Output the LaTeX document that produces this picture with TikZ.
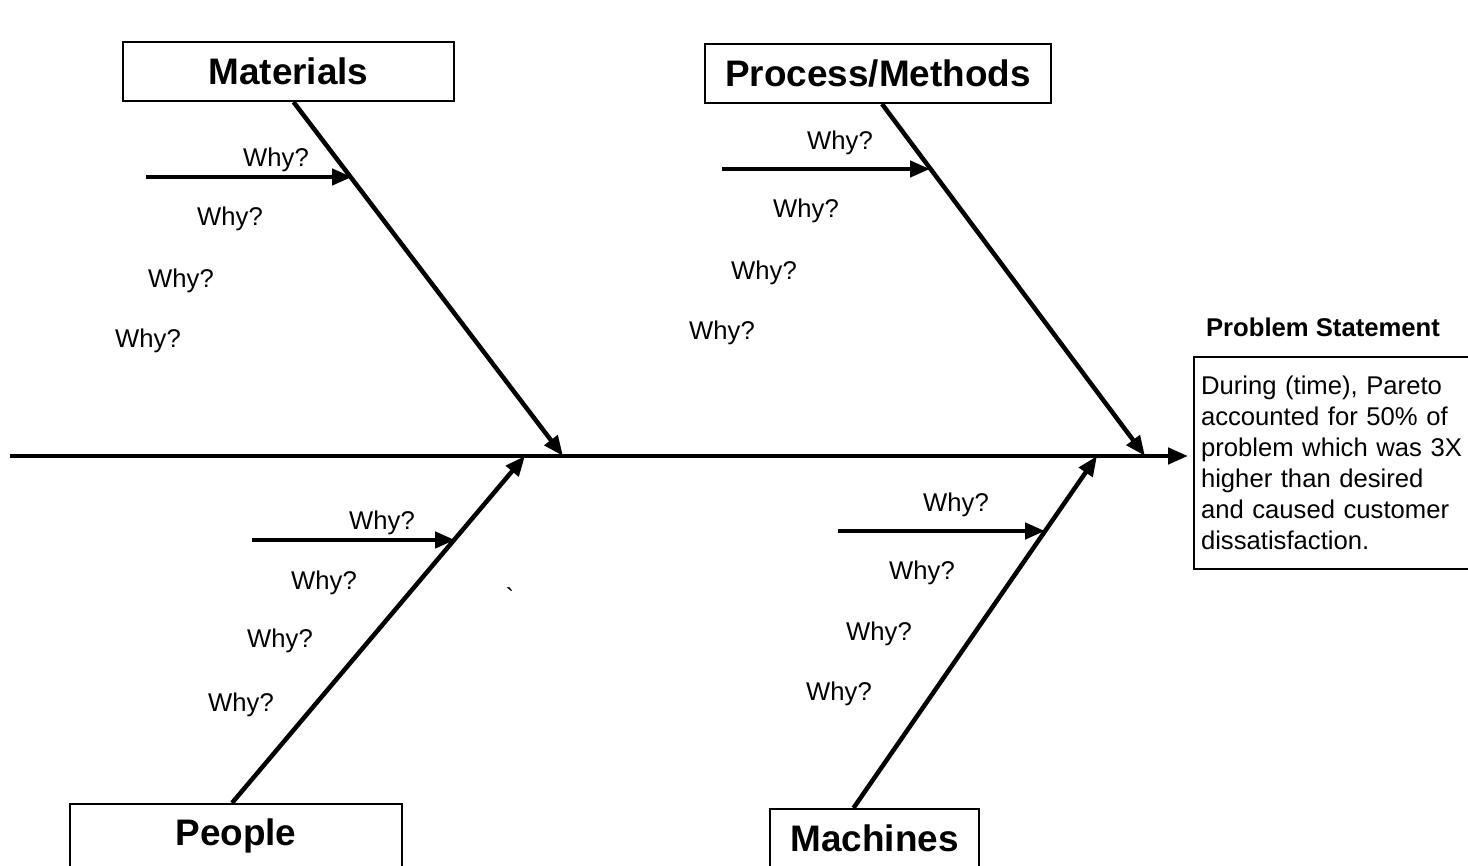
\documentclass[tikz,border=0pt]{standalone}
\usepackage{fontspec}
\setmainfont{Liberation Sans}
\usepackage{tikz}
\usetikzlibrary{arrows.meta}

\tikzset{
  cause/.style={draw, line width=0.2mm, inner sep=0pt,
    font=\fontsize{10.5}{12}\selectfont\bfseries},
  bone/.style={line width=0.45mm, -{Triangle[length=2mm,width=1.6mm]}},
  why/.style={font=\fontsize{7.3}{8.8}\selectfont},
}

\begin{document}
\begin{tikzpicture}[x=0.1mm,y=-0.1mm]
\useasboundingbox (0,0) rectangle (1468,866);
\clip (0,0) rectangle (1468,866);
% cause boxes
\node[cause, minimum width=33.1mm, minimum height=5.9mm] (mat) at (288.5,71.5) {Materials};
\node[cause, minimum width=34.6mm, minimum height=5.9mm] (proc) at (878,73.5) {Process/Methods};
\node[cause, minimum width=33.2mm, minimum height=6.4mm] (ppl) at (236,836) {People};
\node[cause, minimum width=20.9mm, minimum height=5.9mm] (mach) at (874.5,838.5) {Machines};
% problem statement
\node[why, font=\fontsize{7.3}{8.8}\selectfont\bfseries] (title) at (1323,327) {Problem Statement};
\node[why, draw, line width=0.2mm, anchor=north west, text width=28mm, minimum height=21.2mm,
  inner xsep=0.7mm, inner ysep=0pt, align=left] (stmt) at (1193,356)
  {During (time), Pareto\\accounted for 50\% of\\problem which was 3X\\higher than desired\\and caused customer\\dissatisfaction.};
% spine and bones
\coordinate (tail) at (10,456);
\coordinate (matend) at (563,456);
\coordinate (procend) at (1145,456);
\coordinate (pplend) at (525,456);
\coordinate (machend) at (1097,456);
\draw[bone, shorten >=0.5mm] (tail) -- (tail -| stmt.west);
\draw[bone] ([xshift=0.5mm]mat.south) -- (matend);
\draw[bone] ([xshift=0.4mm]proc.south) -- (procend);
\draw[bone] ([xshift=-0.4mm]ppl.north) -- (pplend);
\draw[bone] ([xshift=-2.1mm]mach.north) -- (machend);
% why arrows
\coordinate (matw) at (146,177);
\coordinate (matt) at (352,177);
\coordinate (procw) at (722,169);
\coordinate (proct) at (930,169);
\coordinate (pplw) at (252,540);
\coordinate (pplt) at (455,540);
\coordinate (machw) at (838,531);
\coordinate (macht) at (1045,531);
\draw[bone] (matw) -- (matt);
\draw[bone] (procw) -- (proct);
\draw[bone] (pplw) -- (pplt);
\draw[bone] (machw) -- (macht);
% why labels
\node[why] (mat1) at (276,160) {Why?};
\node[why] (mat2) at (230,219) {Why?};
\node[why] (mat3) at (181,281) {Why?};
\node[why] (mat4) at (148,341) {Why?};
\node[why] (proc1) at (840,143) {Why?};
\node[why] (proc2) at (806,211) {Why?};
\node[why] (proc3) at (764,273) {Why?};
\node[why] (proc4) at (722,333) {Why?};
\node[why] (ppl1) at (382,523) {Why?};
\node[why] (ppl2) at (324,583) {Why?};
\node[why] (ppl3) at (280,641) {Why?};
\node[why] (ppl4) at (241,705) {Why?};
\node[why] (mach1) at (956,505) {Why?};
\node[why] (mach2) at (922,573) {Why?};
\node[why] (mach3) at (879,634) {Why?};
\node[why] (mach4) at (839,694) {Why?};
\node[why] (tick) at (510,597) {\textasciigrave};
\end{tikzpicture}
\end{document}
